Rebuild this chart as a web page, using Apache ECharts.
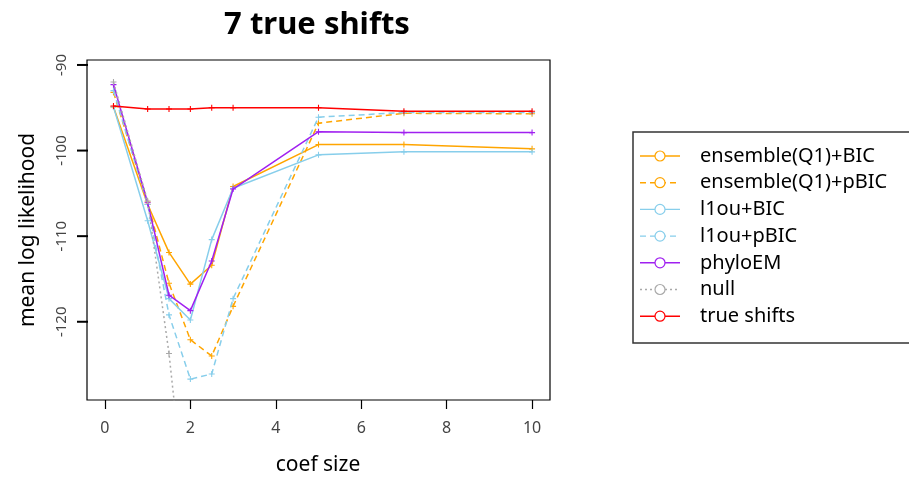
<!DOCTYPE html>
<html>
<head>
<meta charset="utf-8">
<script src="https://cdn.jsdelivr.net/npm/echarts@6/dist/echarts.min.js"></script>
<style>html,body{margin:0;padding:0;background:#fff;}#c{width:909px;height:479px;}</style>
</head>
<body>
<div id="c"></div>
<script>
var coefSizes = [0.2, 1, 1.5, 2, 2.5, 3, 5, 7, 10];
var ensembleBIC  = [-94.9, -106.3, -111.9, -115.6, -113.4, -104.2, -99.3, -99.3, -99.8];
var ensemblePBIC = [-93.2, -106.0, -115.5, -122.1, -124.0, -118.2, -96.8, -95.65, -95.7];
var l1ouBIC      = [-94.9, -108.2, -117.3, -119.8, -110.4, -104.4, -100.5, -100.15, -100.15];
var l1ouPBIC     = [-93.0, -106.3, -119.2, -126.7, -126.1, -117.3, -96.1, -95.55, -95.55];
var phyloEM      = [-92.3, -106.1, -116.9, -118.7, -112.9, -104.5, -97.8, -97.9, -97.9];
var nullModel    = [-92.0, -105.9, -123.7, -147.0, null, null, null, null, null];
var trueShifts   = [-94.8, -95.15, -95.15, -95.15, -95.0, -95.0, -95.0, -95.4, -95.4];

var seriesNames = ['ensemble(Q1)+BIC', 'ensemble(Q1)+pBIC', 'l1ou+BIC', 'l1ou+pBIC', 'phyloEM', 'null', 'true shifts'];
var seriesValues = [ensembleBIC, ensemblePBIC, l1ouBIC, l1ouPBIC, phyloEM, nullModel, trueShifts];
var legendLabels = ['ensemble(Q1)+BIC', 'ensemble(Q1)+pBIC', 'l1ou+BIC', 'l1ou+pBIC', 'phyloEM', 'null', 'true shifts'];
var xTicks = [0, 2, 4, 6, 8, 10];
var yTicks = [-120, -110, -100, -90];
var titleText = '7 true shifts';
var xTitle = 'coef size';
var yTitle = 'mean log likelihood';

var colors = ['#FFA500', '#FFA500', '#87CEEB', '#87CEEB', '#A020F0', '#A9A9A9', '#FF0000'];
var dashes = ['solid', [6, 4], 'solid', [6, 4], 'solid', [2, 3], 'solid'];

var FONT = '"Noto Sans", "Open Sans", sans-serif';
var plusPath = 'path://M-0.18,-1 L0.18,-1 L0.18,-0.18 L1,-0.18 L1,0.18 L0.18,0.18 L0.18,1 L-0.18,1 L-0.18,0.18 L-1,0.18 L-1,-0.18 L-0.18,-0.18 Z';

var series = seriesNames.map(function (n, i) {
  return {
    name: n,
    type: 'line',
    data: coefSizes.map(function (x, j) { return [x, seriesValues[i][j]]; }),
    symbol: plusPath,
    symbolSize: 6,
    showSymbol: true,
    clip: true,
    connectNulls: false,
    lineStyle: { color: colors[i], width: 1.5, type: dashes[i] },
    itemStyle: { color: colors[i] },
    emphasis: { disabled: true },
    z: 2 + i
  };
});

var chart = echarts.init(document.getElementById('c'), null, { renderer: 'canvas' });
chart.setOption({
  animation: false,
  backgroundColor: '#fff',
  grid: { left: 87, top: 60, right: 359, bottom: 79, show: true, borderColor: '#000', borderWidth: 1.2, backgroundColor: 'transparent' },
  xAxis: {
    type: 'value', min: -0.42, max: 10.42,
    axisLine: { show: false },
    splitLine: { show: false },
    axisTick: { show: true, length: 9, customValues: xTicks, lineStyle: { color: '#000', width: 1.2 } },
    axisLabel: { customValues: xTicks, margin: 20, fontSize: 16, fontFamily: FONT, color: '#444' }
  },
  yAxis: {
    type: 'value', min: -129.14, max: -89.42,
    axisLine: { show: false },
    splitLine: { show: false },
    axisTick: { show: false },
    axisLabel: { customValues: yTicks, rotate: 90, margin: 18, fontSize: 15, fontFamily: FONT, color: '#444' }
  },
  series: series
});

var g = [];
g.push({ type: 'text', x: 317, y: 25, style: { text: titleText, font: 'bold 31px ' + FONT, fill: '#000', textAlign: 'center', textVerticalAlign: 'middle' } });
g.push({ type: 'text', x: 318, y: 465, style: { text: xTitle, font: '21px ' + FONT, fill: '#000', textAlign: 'center', textVerticalAlign: 'middle' } });
g.push({ type: 'text', x: 28, y: 230, rotation: Math.PI / 2, style: { text: yTitle, font: '21px ' + FONT, fill: '#000', textAlign: 'center', textVerticalAlign: 'middle' } });
g.push({ type: 'rect', shape: { x: 633, y: 132, width: 290, height: 211 }, style: { fill: '#fff', stroke: '#333', lineWidth: 1.5 } });
legendLabels.forEach(function (lab, i) {
  var cy = 156 + i * 26.7;
  g.push({ type: 'line', shape: { x1: 640, y1: cy, x2: 680, y2: cy }, style: { stroke: colors[i], lineWidth: 1.4, lineDash: dashes[i] === 'solid' ? null : dashes[i] } });
  g.push({ type: 'circle', shape: { cx: 660, cy: cy, r: 5 }, style: { fill: '#fff', stroke: colors[i], lineWidth: 1.2 } });
  g.push({ type: 'text', x: 700, y: cy, style: { text: lab, font: '20px ' + FONT, fill: '#000', textAlign: 'left', textVerticalAlign: 'middle' } });
});
// y-axis tick marks, positioned through the chart's own y scale
yTicks.forEach(function (v) {
  var py = chart.convertToPixel({ yAxisIndex: 0 }, v);
  g.push({ type: 'rect', shape: { x: 77, y: py - 1, width: 11, height: 2 }, style: { fill: '#000' }, z: 1000 });
});
chart.setOption({ graphic: g });
</script>
</body>
</html>
